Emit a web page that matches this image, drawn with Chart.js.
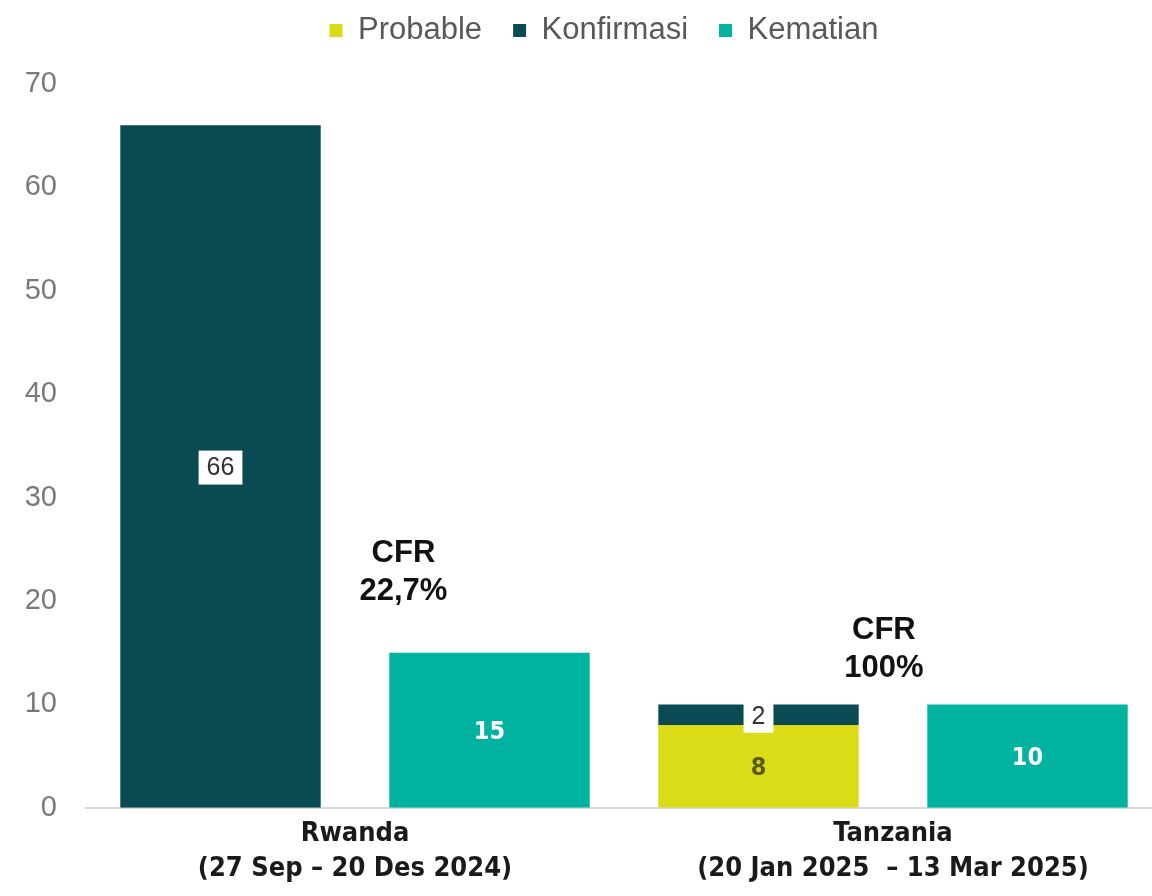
<!DOCTYPE html>
<html>
<head>
<meta charset="utf-8">
<script src="https://cdn.jsdelivr.net/npm/chart.js@4"></script>
<style>
  body { margin: 0; background: #fff; overflow: hidden; }
</style>
</head>
<body>
<canvas id="myChart" width="1162" height="896"></canvas>
<script>
const categories = [
  ["Rwanda", "(27 Sep \u2013 20 Des 2024)"],
  ["Tanzania", "(20 Jan 2025  \u2013 13 Mar 2025)"],
];
const probable = [null, 8];
const konfirmasi = [66, 2];
const kematian = [15, 10];
const cfrLabels = [["CFR", "22,7%"], ["CFR", "100%"]];
const yTicks = [0, 10, 20, 30, 40, 50, 60, 70];

const colProbable = "#d9dc17";
const colKonfirmasi = "#0a4a52";
const colKematian = "#00b3a0";

// labels inside the bars
const valueLabels = {
  id: "valueLabels",
  afterDatasetsDraw(chart) {
    const ctx = chart.ctx;
    chart.data.datasets.forEach((ds, i) => {
      const meta = chart.getDatasetMeta(i);
      meta.data.forEach((bar, j) => {
        const v = ds.data[j];
        if (v == null) return;
        const x = bar.x;
        const y = (bar.y + bar.base) / 2;
        ctx.save();
        ctx.textAlign = "center";
        ctx.textBaseline = "middle";
        if (ds.labelStyle === "box") {
          ctx.font = "25px 'Liberation Sans', Arial";
          const w = ctx.measureText(String(v)).width + 16;
          ctx.fillStyle = "#ffffff";
          ctx.fillRect(x - w / 2, y - 16, w, 34);
          ctx.fillStyle = "#333333";
          ctx.fillText(String(v), x, y + 2);
        } else {
          ctx.font = "bold 25px 'DejaVu Sans Condensed', 'Liberation Sans', Arial";
          ctx.fillStyle = ds.labelStyle === "dark" ? "#5b5a10" : "#ffffff";
          ctx.fillText(String(v), x, y + 2);
        }
        ctx.restore();
      });
    });
  },
};

// CFR notes, placed in data units
const cfrNotes = {
  id: "cfrNotes",
  afterDatasetsDraw(chart, args, opts) {
    const ctx = chart.ctx;
    const xs = chart.scales.x;
    const ys = chart.scales.y;
    const catW = xs.getPixelForValue(1) - xs.getPixelForValue(0);
    ctx.save();
    ctx.font = "bold 31px 'Liberation Sans', Arial";
    ctx.fillStyle = "#111111";
    ctx.textAlign = "center";
    ctx.textBaseline = "middle";
    cfrLabels.forEach((lines, i) => {
      const p = opts.pos[i];
      const x = xs.getPixelForValue(i) + p.dx * catW;
      const y = ys.getPixelForValue(p.y);
      ctx.fillText(lines[0], x, y - 19);
      ctx.fillText(lines[1], x, y + 19);
    });
    ctx.restore();
  },
};

// extra room under the legend, and nudge it right
const legendTweak = {
  id: "legendTweak",
  beforeInit(chart) {
    const lg = chart.legend;
    const fit = lg.fit;
    lg.fit = function () {
      fit.bind(lg)();
      this.height += 28;
    };
    const draw = lg.draw;
    lg.draw = function () {
      chart.ctx.save();
      chart.ctx.translate(23, 0);
      draw.bind(lg)();
      chart.ctx.restore();
    };
  },
};

const ctx = document.querySelector("#myChart").getContext("2d");
const chart = new Chart(ctx, {
  type: "bar",
  data: {
    labels: categories,
    datasets: [
      {
        label: "Probable",
        data: probable,
        backgroundColor: colProbable,
        stack: "kasus",
        labelStyle: "dark",
      },
      {
        label: "Konfirmasi",
        data: konfirmasi,
        backgroundColor: colKonfirmasi,
        stack: "kasus",
        labelStyle: "box",
      },
      {
        label: "Kematian",
        data: kematian,
        backgroundColor: colKematian,
        stack: "mati",
        labelStyle: "white",
      },
    ],
  },
  options: {
    responsive: false,
    animation: false,
    layout: { padding: { left: 0, right: 0, top: -16, bottom: 0 } },
    datasets: {
      bar: { barPercentage: 0.745, categoryPercentage: 1.0 },
    },
    scales: {
      x: {
        stacked: true,
        grid: { display: false, drawTicks: false, tickLength: 0 },
        border: { color: "#d9d9d9", width: 2 },
        ticks: {
          color: "#1a1a1a",
          padding: 9,
          font: { family: "'Liberation Sans Narrow', 'DejaVu Sans Condensed', Arial", size: 27, weight: "bold", lineHeight: 1.3 },
        },
      },
      y: {
        stacked: true,
        min: 0,
        max: 70,
        afterBuildTicks: (s) => { s.ticks = yTicks.map((v) => ({ value: v })); },
        afterFit: (s) => { s.width = 86; },
        grid: { display: false },
        border: { display: false },
        ticks: {
          color: "#7a7a7a",
          padding: 21,
          font: { family: "'Liberation Sans', Arial", size: 29 },
        },
      },
    },
    plugins: {
      legend: {
        position: "top",
        labels: {
          boxWidth: 13,
          boxHeight: 13,
          padding: 31,
          color: "#595959",
          font: { family: "'Liberation Sans', Arial", size: 31 },
        },
      },
      tooltip: { enabled: false },
      cfrNotes: { pos: [{ dx: 0.09, y: 22.8 }, { dx: -0.017, y: 15.3 }] },
    },
  },
  plugins: [valueLabels, cfrNotes, legendTweak],
});
</script>
</body>
</html>
